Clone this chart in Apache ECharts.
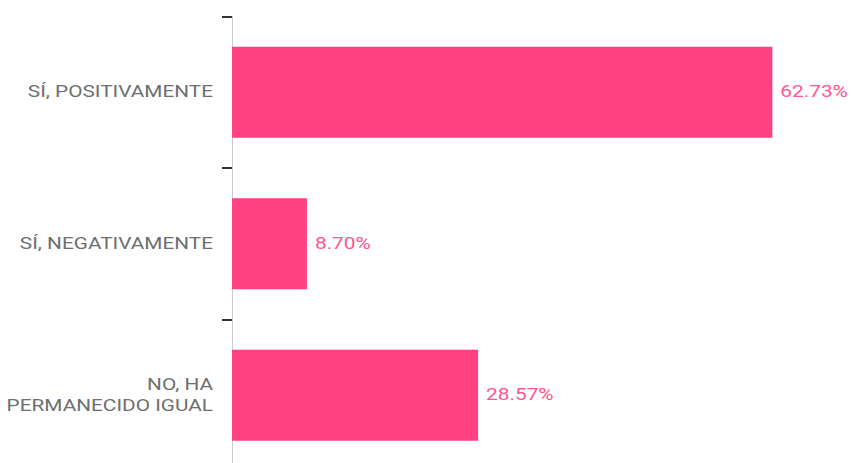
<!DOCTYPE html>
<html>
<head>
<meta charset="utf-8">
<script src="https://cdn.jsdelivr.net/npm/echarts@6/dist/echarts.min.js"></script>
<style>
html,body{margin:0;padding:0;background:#fff}
#c{width:852px;height:463px}
</style>
</head>
<body>
<div id="c"></div>
<script>
const categories = ['SÍ, POSITIVAMENTE', 'SÍ, NEGATIVAMENTE', 'NO, HA\nPERMANECIDO IGUAL'];
const values = [62.73, 8.70, 28.57];

const chart = echarts.init(document.getElementById('c'), null, { renderer: 'svg' });
chart.setOption({
  animation: false,
  grid: { left: 232, right: 17, top: 16.5, height: 454.5, outerBoundsMode: 'none', containLabel: false },
  xAxis: { type: 'value', min: 0, max: 70, show: false },
  yAxis: {
    type: 'category', inverse: true, data: categories,
    axisLine: { show: true, lineStyle: { color: '#cccccc', width: 1 } },
    axisTick: { show: true, length: 10, lineStyle: { color: '#333333', width: 2 } },
    axisLabel: { color: '#6e6e6e', fontSize: 16, fontFamily: 'Roboto', margin: 19, lineHeight: 21, align: 'right' }
  },
  series: [{
    type: 'bar', data: values, barWidth: '60%',
    itemStyle: { color: '#ff4081' },
    label: { show: true, position: 'right', distance: 8, color: '#ff5590', fontSize: 16, fontFamily: 'Roboto',
      formatter: p => p.value.toFixed(2) + '%' }
  }]
});
// widen the glyphs horizontally around each text's anchor, as in the reference
function widenText() {
  document.querySelectorAll('#c svg text').forEach(t => {
    const tr = t.getAttribute('transform') || '';
    if (!/scale\(1\.3/.test(tr)) t.setAttribute('transform', (tr + ' scale(1.3 1)').trim());
  });
}
chart.on('finished', widenText);
setTimeout(widenText, 50);
</script>
</body>
</html>
